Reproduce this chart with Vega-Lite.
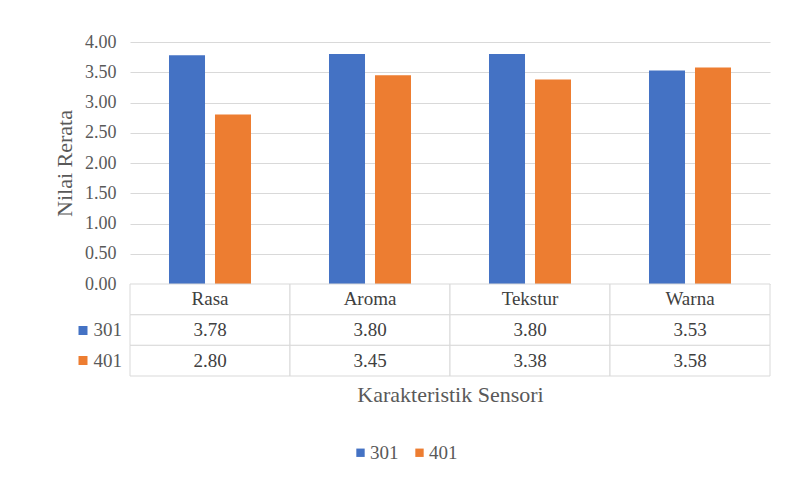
{
  "$schema": "https://vega.github.io/schema/vega-lite/v6.json",
  "background": "white",
  "padding": {"left": 53, "top": 33, "right": 14, "bottom": 10},
  "autosize": {"type": "pad"},
  "config": {
    "font": "Liberation Serif",
    "view": {"stroke": null},
    "axis": {
      "labelFont": "Liberation Serif",
      "titleFont": "Liberation Serif",
      "labelColor": "#595959",
      "titleColor": "#595959",
      "titleFontWeight": "normal"
    },
    "legend": {"labelFont": "Liberation Serif"}
  },
  "data": {
    "values": [
      {"kategori": "Rasa", "sampel": "301", "nilai": 3.78},
      {"kategori": "Rasa", "sampel": "401", "nilai": 2.80},
      {"kategori": "Aroma", "sampel": "301", "nilai": 3.80},
      {"kategori": "Aroma", "sampel": "401", "nilai": 3.45},
      {"kategori": "Tekstur", "sampel": "301", "nilai": 3.80},
      {"kategori": "Tekstur", "sampel": "401", "nilai": 3.38},
      {"kategori": "Warna", "sampel": "301", "nilai": 3.53},
      {"kategori": "Warna", "sampel": "401", "nilai": 3.58}
    ]
  },
  "spacing": 0,
  "bounds": "flush",
  "resolve": {"scale": {"color": "shared"}, "legend": {"color": "shared"}},
  "vconcat": [
    {
      "width": 640,
      "height": 242,
      "mark": {"type": "bar"},
      "encoding": {
        "x": {
          "field": "kategori",
          "type": "nominal",
          "scale": {"domain": ["Rasa", "Aroma", "Tekstur", "Warna"], "paddingInner": 0, "paddingOuter": 0},
          "axis": null
        },
        "xOffset": {
          "field": "sampel",
          "type": "nominal",
          "scale": {"domain": ["301", "401"], "paddingInner": 0.217, "paddingOuter": 0.848}
        },
        "y": {
          "field": "nilai",
          "type": "quantitative",
          "scale": {"domain": [0, 4]},
          "axis": {
            "title": "Nilai Rerata",
            "values": [0, 0.5, 1, 1.5, 2, 2.5, 3, 3.5, 4],
            "format": ".2f",
            "grid": true,
            "gridColor": "#d9d9d9",
            "domain": false,
            "ticks": false,
            "labelFontSize": 18,
            "labelPadding": 14,
            "titleFontSize": 22,
            "titlePadding": 8
          }
        },
        "color": {
          "field": "sampel",
          "type": "nominal",
          "scale": {"domain": ["301", "401"], "range": ["#4472C4", "#ED7D31"]},
          "legend": {
            "orient": "none",
            "legendX": 221,
            "legendY": 401,
            "direction": "horizontal",
            "title": null,
            "symbolType": "square",
            "symbolSize": 70,
            "labelFontSize": 19,
            "labelColor": "#595959",
            "labelOffset": 0,
            "columnPadding": 11
          }
        }
      }
    },
    {
      "width": 640,
      "height": 92,
      "layer": [
        {
          "mark": {"type": "rect", "fill": "white", "stroke": "#d9d9d9", "strokeWidth": 1},
          "encoding": {
            "x": {
              "field": "kategori",
              "type": "nominal",
              "scale": {"domain": ["Rasa", "Aroma", "Tekstur", "Warna"], "paddingInner": 0, "paddingOuter": 0},
              "axis": {
                "title": "Karakteristik Sensori",
                "labels": false,
                "ticks": false,
                "domain": false,
                "titleFontSize": 22,
                "titlePadding": 8
              }
            },
            "y": {
              "field": "sampel",
              "type": "nominal",
              "scale": {"domain": ["head", "301", "401"], "paddingInner": 0, "paddingOuter": 0},
              "axis": {
                "title": null,
                "values": ["301", "401"],
                "domain": false,
                "offset": 43,
                "tickSize": 9,
                "tickWidth": 9,
                "tickCap": "butt",
                "tickColor": {"condition": {"test": "datum.value === '301'", "value": "#4472C4"}, "value": "#ED7D31"},
                "labelAlign": "left",
                "labelPadding": -15,
                "labelFontSize": 19,
                "labelColor": "#595959"
              }
            }
          }
        },
        {
          "transform": [{"filter": "datum.sampel === '301'"}],
          "mark": {"type": "rect", "fill": "white", "stroke": "#d9d9d9", "strokeWidth": 1},
          "encoding": {
            "x": {"field": "kategori", "type": "nominal"},
            "y": {"datum": "head", "type": "nominal"}
          }
        },
        {
          "mark": {"type": "text", "fontSize": 19, "color": "#404040", "font": "Liberation Serif"},
          "encoding": {
            "x": {"field": "kategori", "type": "nominal"},
            "y": {"field": "sampel", "type": "nominal"},
            "text": {"field": "nilai", "type": "quantitative", "format": ".2f"}
          }
        },
        {
          "transform": [{"filter": "datum.sampel === '301'"}],
          "mark": {"type": "text", "fontSize": 19, "color": "#404040", "font": "Liberation Serif"},
          "encoding": {
            "x": {"field": "kategori", "type": "nominal"},
            "y": {"datum": "head", "type": "nominal"},
            "text": {"field": "kategori", "type": "nominal"}
          }
        }
      ]
    }
  ]
}
